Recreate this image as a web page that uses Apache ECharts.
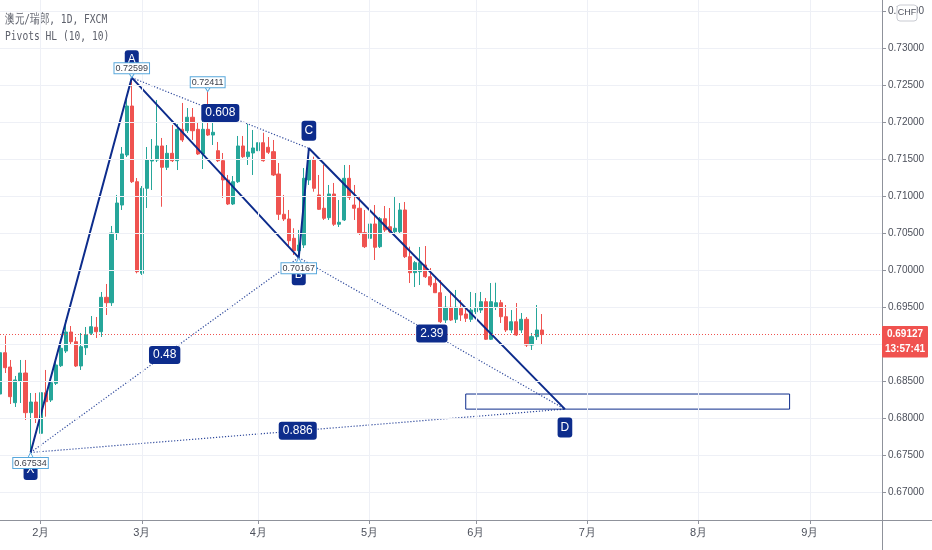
<!DOCTYPE html>
<html>
<head>
<meta charset="utf-8">
<script src="https://cdn.jsdelivr.net/npm/echarts@6/dist/echarts.min.js"></script>
<style>
html,body{margin:0;padding:0;background:#fff;}
#chart{width:932px;height:550px;}
</style>
</head>
<body>
<div id="chart"></div>
<script>
// daily bars, bar 0 = first trading day of Feb
var firstBar = -8;
// [open, close, low, high]
var candles = [
	[0.68324,0.68882,0.68270,0.69045],[0.68882,0.68680,0.68608,0.69112],[0.68689,0.68288,0.68189,0.68784],
	[0.68207,0.68514,0.68149,0.68568],[0.68500,0.68608,0.68203,0.68784],[0.68608,0.68072,0.67973,0.68784],
	[0.68072,0.68216,0.67534,0.68338],[0.68216,0.67996,0.67932,0.68338],[0.67793,0.68342,0.67730,0.68541],
	[0.68342,0.68220,0.68018,0.68649],[0.68243,0.68477,0.68216,0.68514],[0.68469,0.68716,0.68446,0.68784],
	[0.68707,0.68942,0.68689,0.69054],[0.68905,0.69162,0.68878,0.69324],[0.69162,0.69031,0.68986,0.69243],
	[0.69031,0.68703,0.68689,0.69095],[0.68703,0.68964,0.68649,0.69149],[0.68950,0.69122,0.68851,0.69230],
	[0.69145,0.69234,0.69122,0.69378],[0.69226,0.69166,0.69081,0.69365],[0.69166,0.69631,0.69095,0.69703],
	[0.69631,0.69558,0.69392,0.69811],[0.69558,0.70500,0.69514,0.70595],[0.70500,0.70905,0.70405,0.71014],
	[0.70878,0.71568,0.70811,0.71662],[0.71554,0.72216,0.71527,0.72365],[0.72216,0.71193,0.71176,0.72599],
	[0.71193,0.69977,0.69955,0.71243],[0.69955,0.71104,0.69932,0.71135],[0.71104,0.71486,0.70838,0.71662],
	[0.71473,0.71486,0.71081,0.71770],[0.71486,0.71676,0.71459,0.72297],[0.71676,0.71388,0.70855,0.71784],
	[0.71388,0.71577,0.71351,0.71689],[0.71577,0.71477,0.71459,0.71959],[0.71477,0.71901,0.71351,0.71973],
	[0.71901,0.71757,0.71730,0.72257],[0.71882,0.72064,0.71851,0.72189],[0.72064,0.71882,0.71757,0.72189],
	[0.71901,0.71568,0.71554,0.72000],[0.71568,0.71901,0.71365,0.72068],[0.71901,0.71824,0.71811,0.72411],
	[0.71824,0.71861,0.71689,0.72095],[0.71612,0.71477,0.71459,0.71730],[0.71477,0.71216,0.70973,0.71581],
	[0.71216,0.70892,0.70878,0.71284],[0.70892,0.71193,0.70878,0.71270],[0.71193,0.71676,0.71176,0.71811],
	[0.71676,0.71531,0.71514,0.71811],[0.71531,0.71595,0.71419,0.71973],[0.71581,0.71649,0.71284,0.71892],
	[0.71612,0.71720,0.71595,0.71838],[0.71720,0.71477,0.71464,0.71855],[0.71658,0.71591,0.71568,0.71797],
	[0.71599,0.71284,0.71270,0.71757],[0.71297,0.70753,0.70676,0.71446],[0.70753,0.70689,0.70662,0.71014],
	[0.70689,0.70396,0.70324,0.70811],[0.70428,0.70261,0.70203,0.70564],[0.70261,0.70338,0.70167,0.70541],
	[0.70338,0.71239,0.70297,0.71378],[0.71216,0.71486,0.71149,0.71645],[0.71486,0.71104,0.71058,0.71531],
	[0.71014,0.70820,0.70811,0.71284],[0.70834,0.70699,0.70676,0.71419],[0.70707,0.71027,0.70676,0.71149],
	[0.71027,0.70618,0.70595,0.71176],[0.70618,0.70645,0.70581,0.70946],[0.70676,0.71239,0.70662,0.71419],
	[0.71239,0.70982,0.70946,0.71419],[0.70878,0.70834,0.70676,0.71149],[0.70834,0.70504,0.70473,0.70986],
	[0.70504,0.70315,0.70297,0.70811],[0.70428,0.70622,0.70405,0.70716],[0.70622,0.70307,0.70135,0.70878],
	[0.70315,0.70693,0.70297,0.70716],[0.70693,0.70541,0.70514,0.70865],[0.70585,0.70518,0.70500,0.70838],
	[0.70518,0.70564,0.70500,0.70986],[0.70518,0.70811,0.70500,0.70905],[0.70811,0.70180,0.70162,0.70919],
	[0.70180,0.69964,0.69824,0.70315],[0.69964,0.70099,0.69770,0.70122],[0.69977,0.70099,0.69797,0.70311],
	[0.70068,0.69909,0.69892,0.70324],[0.69909,0.69797,0.69770,0.70027],[0.69820,0.69693,0.69689,0.69919],
	[0.69693,0.69301,0.69284,0.69865],[0.69324,0.69496,0.69284,0.69649],[0.69496,0.69324,0.69311,0.69703],
	[0.69334,0.69496,0.69284,0.69730],[0.69482,0.69392,0.69311,0.69595],[0.69405,0.69347,0.69297,0.69500],
	[0.69334,0.69459,0.69297,0.69703],[0.69436,0.69482,0.69405,0.69689],[0.69459,0.69572,0.69419,0.69703],
	[0.69572,0.69064,0.69054,0.69622],[0.69064,0.69572,0.69054,0.69824],[0.69504,0.69558,0.69459,0.69828],
	[0.69558,0.69369,0.69284,0.69595],[0.69369,0.69189,0.69162,0.69527],[0.69189,0.69301,0.69149,0.69459],
	[0.69301,0.69122,0.69108,0.69554],[0.69189,0.69334,0.69149,0.69419],[0.69334,0.68986,0.68960,0.69365],
	[0.68986,0.69099,0.68919,0.69149],[0.69099,0.69189,0.69054,0.69527],[0.69189,0.69127,0.68986,0.69405]
];

var monthTicks = [0, 20, 43, 65, 86, 108, 130, 152];
var monthLabels = ['2月','3月','4月','5月','6月','7月','8月','9月'];
var priceTicks = [0.670,0.675,0.680,0.685,0.690,0.695,0.700,0.705,0.710,0.715,0.720,0.725,0.730,0.735];

// XABCD
var patternNames = ['X','A','B','C','D'];
var patternIdx = [-2, 18, 51, 53, 103.6];
var patternPrice = [0.67534, 0.72599, 0.70167, 0.71645, 0.6812];
var patternUp = [false, true, false, true, false];
var ratioPairs = [[0,2],[1,3],[2,4],[0,4]];
var ratioLabels = ['0.48','0.608','2.39','0.886'];

// Pivots HL
var pivotIdx = [-2, 18, 33, 51];
var pivotPrice = [0.67534, 0.72599, 0.72411, 0.70167];
var pivotHigh = [false, true, true, false];

var boxIdx = [84, 148];
var boxPrice = [0.68324, 0.6812];

var lastPrice = candles[candles.length-1][1];
var countdown = '13:57:41';

var NAVY = '#0d2c8c';
var UP = '#26a69a', DOWN = '#ef5350';
var FONT = "'Liberation Sans',Roboto,sans-serif";
var AXIS = '#8f929b';

var chart = echarts.init(document.getElementById('chart'));

var bars = candles.map(function(c, k){ return [firstBar+k, c[0], c[1], c[2], c[3]]; });
var pts = patternIdx.map(function(x, k){ return [x, patternPrice[k]]; });

var series = [];

// grid lines
series.push({
	type:'line', data:[], z:0, silent:true,
	markLine:{
		silent:true, precision:5, symbol:['none','none'], label:{show:false},
		lineStyle:{color:'#eef0f6', width:1, type:'solid'},
		data: priceTicks.map(function(p){ return {yAxis:p}; })
			.concat(monthTicks.map(function(m){ return {xAxis:m}; }))
	}
});

series.push({
	type:'candlestick', z:2,
	data: bars,
	encode:{x:0, y:[1,2,3,4]},
	barWidth:3.6,
	itemStyle:{color:UP, color0:DOWN, borderColor:UP, borderColor0:DOWN, borderWidth:1}
});

// last price line
series.push({
	type:'line', data:[], z:3, silent:true,
	markLine:{
		silent:true, precision:5, symbol:['none','none'], label:{show:false},
		lineStyle:{color:DOWN, width:1, type:[1,2]},
		data:[{yAxis:lastPrice}]
	}
});

// target box near D
series.push({
	type:'line', z:4, data:[], silent:true,
	markArea:{
		silent:true, precision:5,
		itemStyle:{color:'rgba(255,255,255,0)', borderColor:NAVY, borderWidth:1},
		data:[[{coord:[boxIdx[0], boxPrice[0]]},{coord:[boxIdx[1], boxPrice[1]]}]]
	}
});

ratioPairs.forEach(function(pr){
	series.push({
		type:'line', z:3, silent:true, symbol:'none',
		data:[pts[pr[0]], pts[pr[1]]],
		lineStyle:{color:NAVY, width:1.2, type:[1.2,1.8], opacity:0.85}
	});
});

series.push({
	type:'line', z:4, silent:true, symbol:'none',
	data: pts,
	lineStyle:{color:NAVY, width:2}
});

// ratio labels on the middle of each dotted leg
series.push({
	type:'scatter', z:6, silent:true, symbolSize:1,
	itemStyle:{color:'rgba(0,0,0,0)', opacity:1},
	data: ratioPairs.map(function(pr, k){
		return {value:[(pts[pr[0]][0]+pts[pr[1]][0])/2, (pts[pr[0]][1]+pts[pr[1]][1])/2], name:ratioLabels[k]};
	}),
	label:{show:true, position:'inside', formatter:'{b}', color:'#fff', fontFamily:FONT, fontSize:12,
		lineHeight:12, backgroundColor:NAVY, padding:[3,4,3,4], borderRadius:3}
});

// point tags
series.push({
	type:'scatter', z:6, silent:true, symbolSize:1,
	itemStyle:{color:'rgba(0,0,0,0)', opacity:1},
	data: pts.map(function(p, k){
		return {value:p, name:patternNames[k], label:{position: patternUp[k] ? 'top' : 'bottom', distance: k==4 ? 8 : 7}};
	}),
	label:{show:true, formatter:'{b}', color:'#fff', fontFamily:FONT, fontSize:12, lineHeight:12,
		backgroundColor:NAVY, padding:[4,3,4,3], borderRadius:3}
});

// pivot labels
series.push({
	type:'scatter', z:8, silent:true,
	data: pivotIdx.map(function(x, k){
		var hi = pivotHigh[k];
		return {
			value:[x, pivotPrice[k]],
			symbol: hi ? 'path://M0,0L10,0L5,8Z' : 'path://M5,0L10,8L0,8Z',
			symbolSize: hi ? [6,5] : [6,6],
			symbolOffset: [0, hi ? -2.5 : 3],
			label:{position: hi ? 'top' : 'bottom', distance:-1}
		};
	}),
	itemStyle:{color:'#fff', borderColor:'#58a8dc', borderWidth:1, opacity:1},
	label:{show:true, formatter:function(p){ return p.value[1].toFixed(5); },
		color:'#3d414c', fontFamily:FONT, fontSize:9, lineHeight:9,
		backgroundColor:'#fff', borderColor:'#58a8dc', borderWidth:1, padding:[1,1,0,1]}
});

var option = {
	animation:false,
	backgroundColor:'#fff',
	grid:{left:0, right:50, top:0, bottom:30},
	xAxis:{
		type:'value', min:-8.04, max:166.26,
		axisLine:{onZero:false, lineStyle:{color:AXIS}},
		axisTick:{customValues:monthTicks, length:4, lineStyle:{color:AXIS}},
		axisLabel:{customValues:monthTicks, color:'#4c505b', fontFamily:FONT, fontSize:11, margin:7,
			formatter:function(v){ return monthLabels[monthTicks.indexOf(v)]; }},
		splitLine:{show:false}
	},
	yAxis:{
		type:'value', position:'right', scale:true, min:0.666216, max:0.736486,
		axisLine:{show:true, onZero:false, lineStyle:{color:AXIS}},
		axisTick:{show:true, customValues:priceTicks, length:4, lineStyle:{color:AXIS}},
		axisLabel:{customValues:priceTicks, color:'#4c505b', fontFamily:FONT, fontSize:10, margin:6,
			formatter:function(v){ return v.toFixed(5); }},
		splitLine:{show:false}
	},
	series: series
};
chart.setOption(option);

var py = chart.convertToPixel({gridIndex:0}, [0, lastPrice])[1];
chart.setOption({
	graphic:[
		{type:'text', x:5, y:20, scaleX:0.74, style:{text:'澳元/瑞郎, 1D, FXCM', fontFamily:'DejaVu Sans Mono', fontSize:13, fill:'#5d606b', verticalAlign:'middle'}},
		{type:'text', x:5, y:37, scaleX:0.74, style:{text:'Pivots HL (10, 10)', fontFamily:'DejaVu Sans Mono', fontSize:13, fill:'#5d606b', verticalAlign:'middle'}},
		{type:'line', shape:{x1:882, y1:520.5, x2:932, y2:520.5}, style:{stroke:AXIS, lineWidth:1}},
		{type:'line', shape:{x1:882.5, y1:520, x2:882.5, y2:550}, style:{stroke:AXIS, lineWidth:1}},
		{type:'rect', shape:{x:897, y:5, width:20, height:16, r:3}, style:{fill:'#fff', stroke:'#c9cbd2', lineWidth:1}, z:100},
		{type:'text', x:907, y:13, z:101, style:{text:'CHF', fontFamily:FONT, fontSize:9, fill:'#50535e', align:'center', verticalAlign:'middle'}},
		{type:'rect', shape:{x:882, y:py-8.5, width:46, height:31.5, r:1}, style:{fill:'#f0524f'}, z:100},
		{type:'text', x:905, y:py, z:101, style:{text:lastPrice.toFixed(5), fontFamily:FONT, fontSize:10, fontWeight:'bold', fill:'#fff', align:'center', verticalAlign:'middle'}},
		{type:'text', x:905, y:py+15, z:101, style:{text:countdown, fontFamily:FONT, fontSize:10, fontWeight:'bold', fill:'#fff', align:'center', verticalAlign:'middle'}}
	]
});
</script>
</body>
</html>
